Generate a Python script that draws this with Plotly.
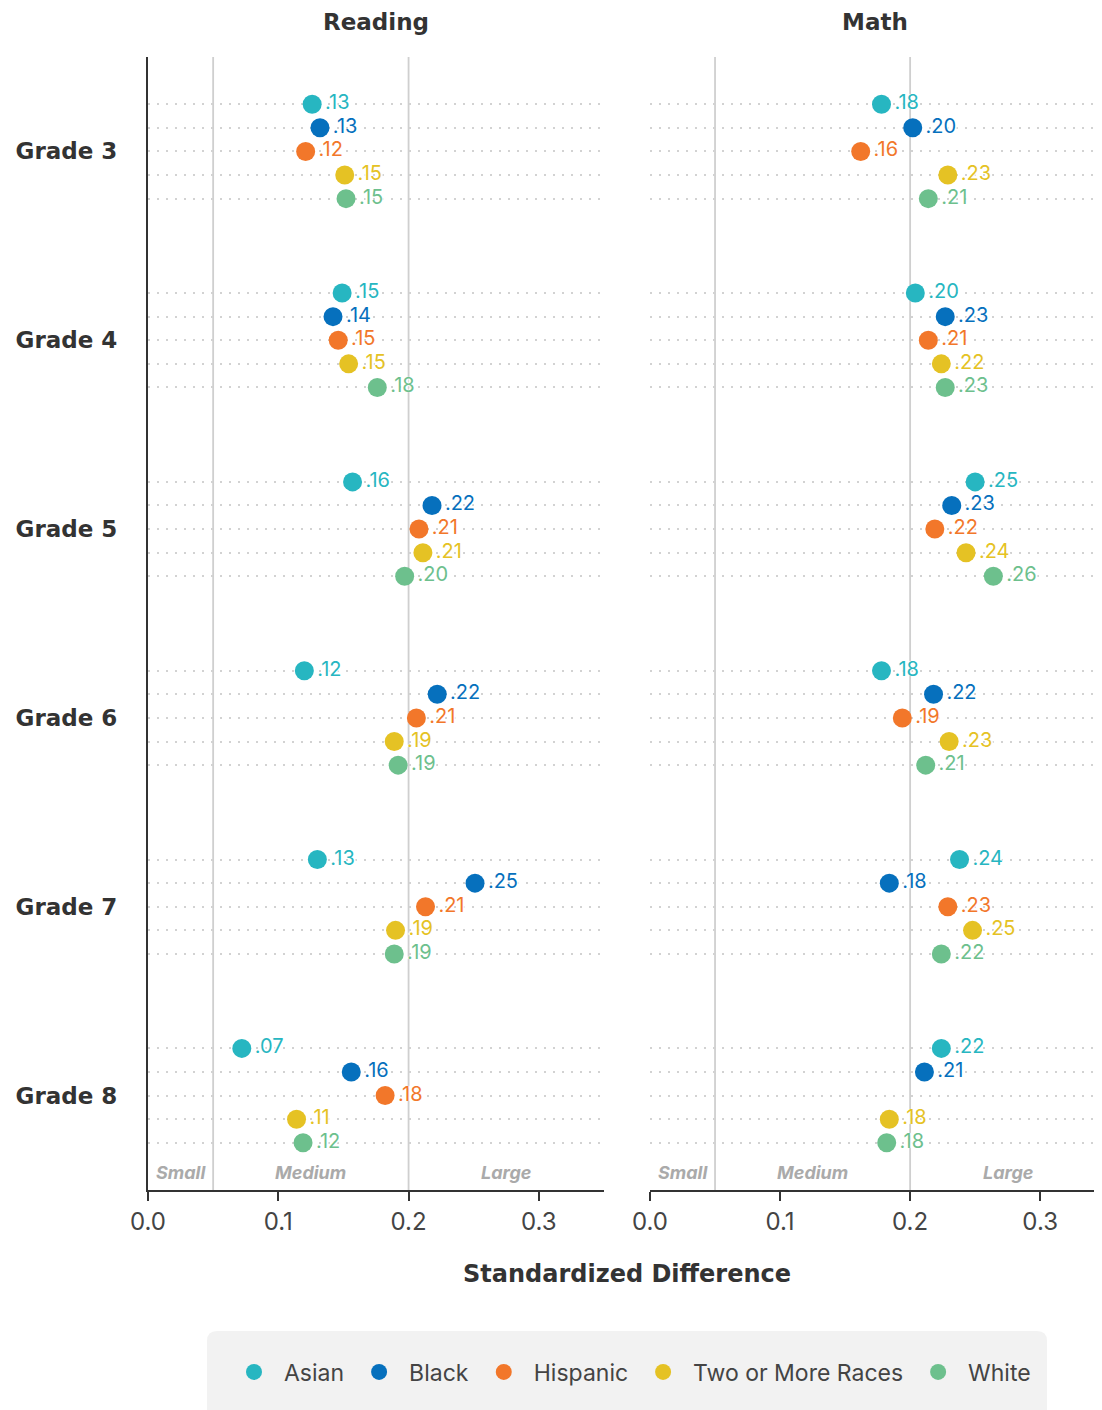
import plotly.graph_objects as go

grades = ["Grade 3", "Grade 4", "Grade 5", "Grade 6", "Grade 7", "Grade 8"]
races = ["Asian", "Black", "Hispanic", "Two or More Races", "White"]
colors = ["#27b6c1", "#0670bd", "#f2772a", "#e5c224", "#6dc08d"]

reading_asian = [0.126, 0.149, 0.157, 0.120, 0.130, 0.072]
reading_black = [0.132, 0.142, 0.218, 0.222, 0.251, 0.156]
reading_hispanic = [0.121, 0.146, 0.208, 0.206, 0.213, 0.182]
reading_two = [0.151, 0.154, 0.211, 0.189, 0.190, 0.114]
reading_white = [0.152, 0.176, 0.197, 0.192, 0.189, 0.119]

math_asian = [0.178, 0.204, 0.250, 0.178, 0.238, 0.224]
math_black = [0.202, 0.227, 0.232, 0.218, 0.184, 0.211]
math_hispanic = [0.162, 0.214, 0.219, 0.194, 0.229, None]
math_two = [0.229, 0.224, 0.243, 0.230, 0.248, 0.184]
math_white = [0.214, 0.227, 0.264, 0.212, 0.224, 0.182]

x_ticks = [0.0, 0.1, 0.2, 0.3]
thresholds = [0.05, 0.2]
zone_labels = ["Small", "Medium", "Large"]
zone_centers = [0.025, 0.125, 0.275]

reading = [reading_asian, reading_black, reading_hispanic, reading_two, reading_white]
math = [math_asian, math_black, math_hispanic, math_two, math_white]

FONT = "Inter"
HEAD = "DejaVu Sans"
OFF = 8                      # page body margin
W, H = 1102 - OFF, 1410 - OFF
TOP, BOTTOM = 57 - OFF, 1190 - OFF
STEP = 8  # rows per grade block


def lab(v):
    return None if v is None else f"{v:.2f}".lstrip("0")


def ppx(px):  # reference page px -> paper x
    return (px - OFF) / W


def ppy(py):  # reference page px -> paper y
    return (BOTTOM - (py - OFF)) / (BOTTOM - TOP)


fig = go.Figure()
for panel, (data, xa, ya) in enumerate([(reading, "x", "y"), (math, "x2", "y2")]):
    for r, (race, col, vals) in enumerate(zip(races, colors, data)):
        ys = [g * STEP + r for g in range(len(grades))]
        fig.add_trace(go.Scatter(
            x=vals, y=ys, xaxis=xa, yaxis=ya,
            mode="markers+text",
            text=[lab(v) for v in vals],
            textposition="middle right",
            textfont=dict(color=col, size=20, family=FONT,
                          shadow="2px 0px 1px white, -2px 0px 1px white"),
            marker=dict(color=col, size=19),
            name=race, legendgroup=race, showlegend=(panel == 0),
            cliponaxis=False,
        ))

row_vals = [g * STEP + r for g in range(len(grades)) for r in range(5)]
center_vals = [g * STEP + 2 for g in range(len(grades))]
yr = [46, -2]
DOT = "2px,7px"

common_y = dict(range=yr, zeroline=False, showgrid=True, griddash=DOT,
                gridcolor="#d2d2d2", gridwidth=2, automargin=False,
                minor=dict(tickvals=row_vals, showgrid=True, griddash=DOT,
                           gridcolor="#d2d2d2", gridwidth=2, ticks=""))

d1 = [ppx(148), ppx(604)]
d2 = [ppx(650), ppx(1100)]
xcommon = dict(tickvals=x_ticks, tickformat=".1f", automargin=False,
               showgrid=False, zeroline=False, showline=True, linecolor="#333",
               linewidth=2, ticks="outside", ticklen=9, tickwidth=2, tickcolor="#333",
               tickfont=dict(size=24, color="#444", family=FONT))
fig.update_layout(
    width=W, height=H,
    margin=dict(l=0, r=0, t=TOP, b=H - BOTTOM),
    paper_bgcolor="white", plot_bgcolor="white",
    font=dict(family=FONT, color="#444"),
    xaxis=dict(domain=d1, range=[0, 0.35], **xcommon),
    xaxis2=dict(domain=d2, range=[0, 0.346], **xcommon),
    yaxis=dict(anchor="x", tickvals=center_vals, ticktext=grades,
               showline=True, linecolor="#333", linewidth=2,
               ticks="", ticklabelstandoff=24,
               tickfont=dict(size=23, color="#333", family=HEAD, weight="bold"),
               **common_y),
    yaxis2=dict(anchor="x2", tickvals=center_vals, showticklabels=False,
                showline=False, ticks="", **common_y),
    legend=dict(orientation="h", x=ppx(630), xanchor="center",
                y=ppy(1372), yanchor="middle", itemwidth=50,
                font=dict(size=23, color="#444", family=FONT),
                bgcolor="rgba(0,0,0,0)", itemsizing="trace"),
    showlegend=True,
)

shapes = []
for xa in ["x", "x2"]:
    for t in thresholds:
        shapes.append(dict(type="line", xref=xa, yref="paper", x0=t, x1=t, y0=0, y1=1,
                           line=dict(color="#cfcfcf", width=1.8), layer="below"))

# rounded legend background
x0, x1, y0, y1, rad = 207, 1047, 1331, 1420, 10
path = (f"M {ppx(x0 + rad)},{ppy(y0)} L {ppx(x1 - rad)},{ppy(y0)} "
        f"Q {ppx(x1)},{ppy(y0)} {ppx(x1)},{ppy(y0 + rad)} L {ppx(x1)},{ppy(y1)} "
        f"L {ppx(x0)},{ppy(y1)} L {ppx(x0)},{ppy(y0 + rad)} "
        f"Q {ppx(x0)},{ppy(y0)} {ppx(x0 + rad)},{ppy(y0)} Z")
shapes.append(dict(type="path", xref="paper", yref="paper", path=path,
                   fillcolor="#f2f2f2", line=dict(width=0), layer="below"))
fig.update_layout(shapes=shapes)

ann = []
for xa, ya in [("x", "y"), ("x2", "y2")]:
    for zl, zc in zip(zone_labels, zone_centers):
        ann.append(dict(x=zc, y=45.25, xref=xa, yref=ya, text=f"<i><b>{zl}</b></i>",
                        showarrow=False, xanchor="center",
                        font=dict(size=18, color="#aaaaaa", family=FONT)))
ann.append(dict(x=(d1[0] + d1[1]) / 2, y=ppy(22), xref="paper", yref="paper",
                text="<b>Reading</b>", showarrow=False, xanchor="center", yanchor="middle",
                font=dict(size=23, color="#333", family=HEAD)))
ann.append(dict(x=(d2[0] + d2[1]) / 2, y=ppy(22), xref="paper", yref="paper",
                text="<b>Math</b>", showarrow=False, xanchor="center", yanchor="middle",
                font=dict(size=23, color="#333", family=HEAD)))
ann.append(dict(x=ppx(627), y=ppy(1274), xref="paper", yref="paper",
                text="<b>Standardized Difference</b>", showarrow=False,
                xanchor="center", yanchor="middle",
                font=dict(size=24, color="#333", family=HEAD)))
fig.update_layout(annotations=ann)

fig.write_html("out.html")
